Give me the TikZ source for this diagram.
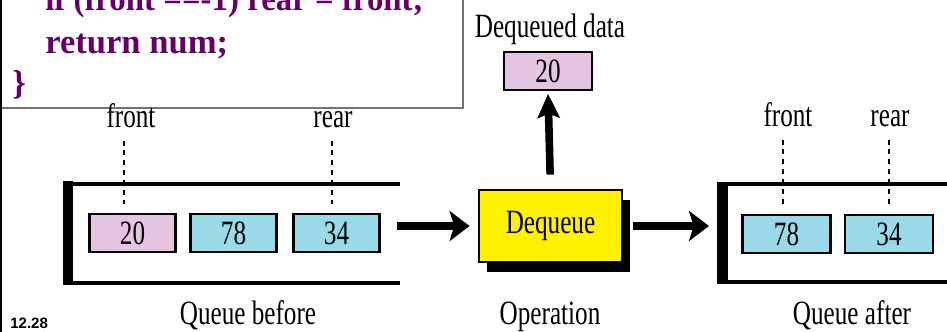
\documentclass[tikz,border=0pt]{standalone}
\usepackage{fontspec}
\setmainfont{Liberation Serif}[FakeStretch=0.74]
\newfontfamily\codefont{Liberation Serif}
\newfontfamily\slidefont{Liberation Sans}
\usetikzlibrary{arrows.meta,shadows,calc}
\definecolor{codepurple}{RGB}{102,0,102}
\definecolor{cellpink}{RGB}{228,196,224}
\definecolor{cellblue}{RGB}{154,218,232}

\begin{document}
\begin{tikzpicture}[x=0.025cm,y=-0.025cm,
  lbl/.style={inner sep=0pt,font=\fontsize{24.2}{28}\selectfont},
  code/.style={anchor=base west,inner sep=0pt,text=codepurple,font=\codefont\bfseries\fontsize{24.6}{29}\selectfont},
  cell/.style={draw,line width=0.07cm,minimum width=2.15cm,minimum height=0.95cm,inner sep=0pt,font=\fontsize{24.2}{28}\selectfont},
  ptr/.style={line width=0.07cm,dash pattern=on 3.5pt off 3.5pt},
  bigarrow/.style={line width=0.21cm,-{Stealth[length=0.5cm,width=0.75cm,inset=0.12cm]}},
  frame/.style={line width=0.1cm}]
  \useasboundingbox (0,0) rectangle (947,331);
  \clip (0,0) rectangle (947,331);

  % Draw code box
  \draw[black!55,line width=0.04cm] (-5,-20) rectangle (463,108);
  \draw[line width=0.1cm] (0,-5) -- (0,340);
  \node[code,xscale=0.95,transform shape] (ln1) at (45,10) {if (front ==-1) rear = front;};
  \node[code] (ln2) at (45,53) {return num;};
  \node[code] (ln3) at (12,94) {\}};

  % Queue before
  \fill (63,181) rectangle (73,285);
  \draw[frame] (63,183.5) -- (400,183.5);
  \draw[frame] (63,282.5) -- (400,282.5);
  \coordinate (qbend) at (397,226);
  \node[cell,fill=cellpink] (b20) at (132.5,233) {20};
  \node[cell,fill=cellblue] (b78) at (233.5,233) {78};
  \node[cell,fill=cellblue] (b34) at (336.5,233) {34};
  \node[lbl,anchor=base] (bfront) at (131,127) {front};
  \node[lbl,anchor=base] (brear) at (333,127) {rear};
  \draw[ptr] ($(bfront.south)+(-7,13)$) -- ($(bfront.south |- b20.north)+(-7,-9)$);
  \draw[ptr] ($(brear.south)+(-1,13)$) -- ($(brear.south |- b34.north)+(-1,-9)$);
  \node[lbl,anchor=base] (qblbl) at (248,324) {Queue before};

  % Operation
  \node[lbl,draw,line width=0.07cm,fill=yellow,minimum width=3.575cm,minimum height=1.8cm,
    drop shadow={shadow xshift=0.2cm,shadow yshift=-0.25cm,fill=black,opacity=1}] (deq) at (550.5,226) {Dequeue};
  \node[cell,fill=cellpink,minimum width=2.2cm] (out) at (548,71) {20};
  \node[lbl,anchor=base] (outlbl) at (550,37) {Dequeued data};
  \node[lbl,anchor=base] (oplbl) at (550,324) {Operation};

  % Queue after
  \fill (717,182) rectangle (728,284);
  \draw[frame] (717,184) -- (950,184);
  \draw[frame] (717,282) -- (950,282);
  \coordinate (qaend) at (709,226);
  \node[cell,fill=cellblue,minimum width=2.2cm] (a78) at (786.5,234) {78};
  \node[cell,fill=cellblue,minimum width=2.2cm] (a34) at (889,234) {34};
  \node[lbl,anchor=base] (afront) at (788,126) {front};
  \node[lbl,anchor=base] (arear) at (890,126) {rear};
  \draw[ptr] ($(afront.south)+(-5,13)$) -- ($(afront.south |- a78.north)+(-5,-10)$);
  \draw[ptr] ($(arear.south)+(-1,13)$) -- ($(arear.south |- a34.north)+(-1,-10)$);
  \node[lbl,anchor=base] (qalbl) at (852,324) {Queue after};

  % Draw arrows
  \draw[bigarrow,shorten >=0.2cm] (qbend) -- (deq.west);
  \draw[bigarrow,shorten <=0.25cm] (deq.east) -- (qaend);
  \draw[bigarrow,line width=0.19cm,-{Stealth[length=0.6cm,width=0.55cm,inset=0.1cm]},
    shorten <=0.35cm,shorten >=0.06cm] (deq.north) -- (out.south);

  \node[anchor=base west,inner sep=0pt,font=\slidefont\bfseries\fontsize{10.7}{12}\selectfont] (slno) at (10,328) {12.28};
\end{tikzpicture}
\end{document}
